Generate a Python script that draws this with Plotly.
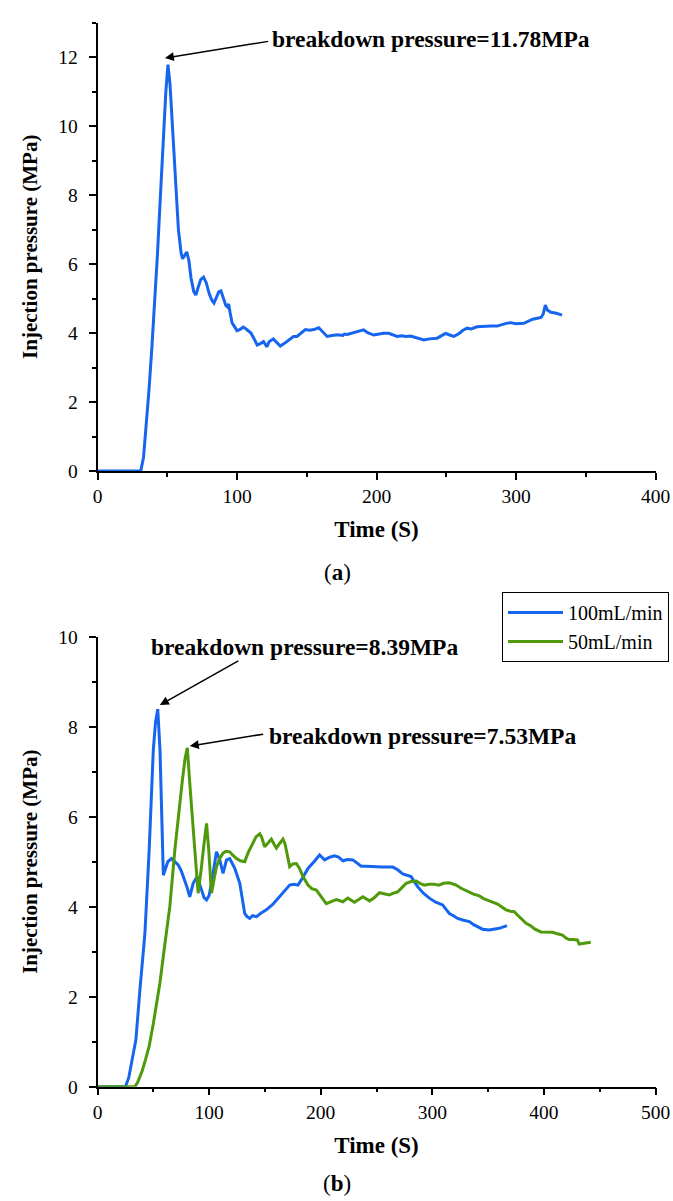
import plotly.graph_objects as go

# ---------- data (a) ----------
t_a = [0, 31, 33, 35, 37, 39, 41, 43, 45, 47, 49, 50.5, 52, 54, 56, 58, 60, 61, 62.5, 64, 65.5, 67, 69, 70.5, 72, 74, 76, 78, 80, 82, 83.5, 85, 87, 88.5, 90, 92, 93, 94, 95, 96.5, 98, 100, 102, 104.5, 107, 110, 112, 114.5, 117, 119, 121.5, 123, 126, 128, 131, 134, 137, 140.5, 143, 146, 149, 152, 155, 158.6, 161, 164.6, 168, 172, 176, 177, 179, 183, 187, 190.7, 194, 198, 202, 205, 208.8, 212, 214.8, 218, 221, 224.4, 228, 231, 234, 238, 243.5, 247, 249.5, 252, 255.4, 259, 262, 265, 268, 272, 277, 282, 286.5, 290, 293, 296, 300, 305.6, 309, 312, 315.2, 318, 319.5, 321, 322.4, 325, 329, 333]
p_a = [0, 0, 0.4, 1.3, 2.4, 3.6, 4.9, 6.3, 7.9, 9.5, 11.0, 11.78, 11.2, 9.8, 8.2, 7.0, 6.3, 6.15, 6.25, 6.35, 6.1, 5.6, 5.2, 5.1, 5.3, 5.55, 5.62, 5.45, 5.15, 4.95, 4.87, 5.0, 5.2, 5.22, 5.05, 4.8, 4.76, 4.84, 4.6, 4.29, 4.2, 4.07, 4.1, 4.17, 4.1, 4.0, 3.85, 3.65, 3.7, 3.75, 3.6, 3.75, 3.83, 3.75, 3.62, 3.7, 3.8, 3.9, 3.9, 4.0, 4.1, 4.08, 4.1, 4.15, 4.05, 3.9, 3.93, 3.95, 3.93, 3.97, 3.96, 4.0, 4.05, 4.09, 4.0, 3.94, 3.97, 3.99, 3.99, 3.93, 3.9, 3.92, 3.9, 3.91, 3.87, 3.82, 3.8, 3.83, 3.85, 3.93, 3.99, 3.95, 3.9, 3.98, 4.08, 4.14, 4.12, 4.18, 4.2, 4.2, 4.2, 4.25, 4.28, 4.3, 4.27, 4.28, 4.35, 4.4, 4.43, 4.45, 4.55, 4.81, 4.67, 4.6, 4.57, 4.52]

# ---------- data (b) ----------
t_100 = [0, 25, 28, 31, 34.4, 38, 42.5, 46.3, 50, 52, 54, 56, 57.5, 59, 61, 63, 66.4, 69, 72.3, 75, 78.3, 80, 82.7, 85.7, 89.3, 91, 93.2, 95.5, 97.7, 100, 102.1, 104.5, 106.6, 109.6, 112.5, 115.6, 118.5, 121, 123, 127.5, 130, 131.9, 134, 136.4, 139, 142.4, 146, 151.3, 157, 163.2, 168, 172.2, 176, 179.6, 184, 188.6, 194, 199, 203.5, 208, 212.4, 216, 219.9, 224, 228.8, 232, 236.3, 241, 246.7, 255, 264.6, 269, 273.5, 278, 281, 284, 287, 292, 297.4, 303, 309.3, 312, 315.3, 319, 322.7, 328, 333.2, 337, 340.6, 345, 351, 356, 360, 366.9]
p_100 = [0, 0, 0.2, 0.6, 1.04, 2.15, 3.41, 5.26, 7.48, 8.1, 8.39, 7.48, 6.0, 4.7, 4.85, 5.0, 5.07, 5.0, 4.93, 4.8, 4.59, 4.45, 4.22, 4.52, 4.67, 4.55, 4.37, 4.2, 4.15, 4.25, 4.52, 4.95, 5.22, 5.04, 4.74, 5.04, 5.07, 4.95, 4.85, 4.52, 4.1, 3.85, 3.78, 3.74, 3.8, 3.78, 3.85, 3.93, 4.05, 4.22, 4.35, 4.48, 4.5, 4.48, 4.65, 4.85, 5.0, 5.15, 5.04, 5.1, 5.13, 5.1, 5.02, 5.05, 5.04, 4.98, 4.9, 4.9, 4.89, 4.88, 4.88, 4.82, 4.73, 4.7, 4.67, 4.55, 4.44, 4.3, 4.19, 4.1, 4.04, 3.95, 3.85, 3.8, 3.74, 3.7, 3.67, 3.6, 3.56, 3.5, 3.48, 3.5, 3.52, 3.58]

t_50 = [0, 33.4, 36, 40, 43, 46.3, 50, 53, 55.9, 60, 64.8, 69.3, 72.3, 76, 78.5, 80.5, 82.7, 85, 87.2, 90.2, 92, 93.2, 95, 97.7, 99.7, 102.1, 104, 106.6, 109, 112.5, 115, 118.5, 121, 124.5, 128, 131.9, 135, 139.4, 142, 145.4, 147, 149.8, 152, 155.8, 158, 160.3, 163, 166.2, 168, 169.2, 172.2, 175, 178.2, 181, 184.1, 188.6, 192, 196.1, 200, 205, 210, 214, 219.9, 224.3, 230.3, 237.8, 243.7, 248, 252.7, 257, 261.6, 265, 269, 273, 276.6, 281, 285.5, 289, 292.9, 297, 301.9, 306, 310, 315.3, 318, 321.3, 325.8, 329, 333.2, 337, 342.1, 346, 351.1, 355, 358.5, 362, 366, 370, 373.4, 377, 380.9, 384, 388.4, 392, 397.3, 402, 407.7, 412, 416.6, 420, 422.6, 426, 430, 431.6, 436, 442]
p_50 = [0, 0, 0.1, 0.35, 0.6, 0.9, 1.4, 1.85, 2.3, 3.1, 4.0, 5.26, 6.0, 6.8, 7.3, 7.53, 6.74, 5.9, 5.26, 4.3, 4.6, 4.89, 5.3, 5.85, 5.26, 4.3, 4.55, 4.89, 5.05, 5.19, 5.23, 5.22, 5.15, 5.07, 5.02, 5.0, 5.2, 5.41, 5.55, 5.62, 5.55, 5.33, 5.4, 5.5, 5.4, 5.3, 5.4, 5.5, 5.4, 5.26, 4.89, 4.95, 4.96, 4.85, 4.67, 4.48, 4.4, 4.37, 4.25, 4.07, 4.12, 4.16, 4.11, 4.19, 4.1, 4.22, 4.13, 4.2, 4.31, 4.28, 4.26, 4.3, 4.33, 4.43, 4.52, 4.56, 4.57, 4.52, 4.48, 4.5, 4.5, 4.48, 4.52, 4.53, 4.5, 4.48, 4.41, 4.37, 4.33, 4.28, 4.24, 4.18, 4.13, 4.1, 4.06, 4.0, 3.93, 3.9, 3.89, 3.8, 3.7, 3.63, 3.57, 3.5, 3.44, 3.43, 3.43, 3.4, 3.37, 3.3, 3.27, 3.27, 3.26, 3.17, 3.18, 3.21]

x_ticks_a = [0, 100, 200, 300, 400]
y_ticks_a = [0, 2, 4, 6, 8, 10, 12]
x_ticks_b = [0, 100, 200, 300, 400, 500]
y_ticks_b = [0, 2, 4, 6, 8, 10]

BLUE = "#1565EF"
GREEN = "#4E9A0A"
SERIF = "Liberation Serif"

fig = go.Figure()
fig.add_trace(go.Scatter(x=t_a, y=p_a, mode="lines", line=dict(color=BLUE, width=3),
                         showlegend=False, xaxis="x", yaxis="y"))
fig.add_trace(go.Scatter(x=t_100, y=p_100, mode="lines", line=dict(color=BLUE, width=3),
                         name="100mL/min", xaxis="x2", yaxis="y2"))
fig.add_trace(go.Scatter(x=t_50, y=p_50, mode="lines", line=dict(color=GREEN, width=3),
                         name="50mL/min", xaxis="x2", yaxis="y2"))

# page body margin is removed by the post script, so lay out in reference pixels
W, H = 673, 1201


def px(x):
    return x / W


def py(y):
    return 1 - y / H


xdom = [px(97.5), px(655.5)]


def xax(rng, ticks, dom_anchor):
    return dict(domain=xdom, range=rng, tickvals=ticks, ticks="outside", ticklen=7, tickwidth=1.5,
                tickcolor="black", showline=True, linecolor="black", linewidth=1.5, showgrid=False,
                zeroline=False, anchor=dom_anchor, automargin=False,
                tickfont=dict(family=SERIF, size=19.5, color="black"),
                minor=dict(ticks="outside", ticklen=4, tickwidth=1.5, tickcolor="black", dtick=50, showgrid=False),
                title=dict(text="<b>Time (S)</b>", font=dict(family=SERIF, size=23, color="black"), standoff=15))


def yax(rng, ticks, dom, anchor):
    return dict(domain=dom, range=rng, tickvals=ticks, ticks="outside", ticklen=7, tickwidth=1.5,
                tickcolor="black", showline=True, linecolor="black", linewidth=1.5, showgrid=False,
                zeroline=False, anchor=anchor, automargin=False, ticklabelstandoff=7,
                tickfont=dict(family=SERIF, size=19.5, color="black"),
                minor=dict(ticks="outside", ticklen=4, tickwidth=1.5, tickcolor="black", dtick=1, showgrid=False),
                title=dict(text="<b>Injection pressure (MPa)</b>", font=dict(family=SERIF, size=21, color="black"),
                           standoff=15))


fig.update_layout(
    width=W, height=H, autosize=False,
    margin=dict(l=0, r=0, t=0, b=0),
    paper_bgcolor="white", plot_bgcolor="white",
    xaxis=xax([0, 400], x_ticks_a, "y"),
    yaxis=yax([0, 13], y_ticks_a, [py(471), py(22.5)], "x"),
    xaxis2=xax([0, 500], x_ticks_b, "y2"),
    yaxis2=yax([0, 10], y_ticks_b, [py(1086.7), py(636.7)], "x2"),
    legend=dict(x=px(502), y=py(592), xanchor="left", yanchor="top",
                bordercolor="black", borderwidth=1, bgcolor="white",
                font=dict(family=SERIF, size=20, color="black"),
                itemwidth=55, tracegroupgap=0),
)

afont = dict(family=SERIF, size=23.5, color="black")
annos = [
    dict(x=48.3, y=11.97, ax=123.4, ay=12.46, xref="x", yref="y", axref="x", ayref="y", text="",
         showarrow=True, arrowhead=2, arrowsize=1.2, arrowwidth=1.5, arrowcolor="black"),
    dict(x=124, y=12.52, xref="x", yref="y", text="<b>breakdown pressure=11.78MPa</b>",
         showarrow=False, xanchor="left", yanchor="middle", font=afont),
    dict(x=55.9, y=8.48, ax=127.5, ay=9.48, xref="x2", yref="y2", axref="x2", ayref="y2", text="",
         showarrow=True, arrowhead=2, arrowsize=1.2, arrowwidth=1.5, arrowcolor="black"),
    dict(x=46, y=9.77, xref="x2", yref="y2", text="<b>breakdown pressure=8.39MPa</b>",
         showarrow=False, xanchor="left", yanchor="middle", font=afont),
    dict(x=82.7, y=7.57, ax=149.8, ay=7.84, xref="x2", yref="y2", axref="x2", ayref="y2", text="",
         showarrow=True, arrowhead=2, arrowsize=1.2, arrowwidth=1.5, arrowcolor="black"),
    dict(x=151.5, y=7.79, xref="x2", yref="y2", text="<b>breakdown pressure=7.53MPa</b>",
         showarrow=False, xanchor="left", yanchor="middle", font=afont),
    dict(x=px(337), y=py(572), xref="paper", yref="paper", text="(<b>a</b>)", showarrow=False,
         xanchor="center", yanchor="middle", font=dict(family=SERIF, size=23, color="black")),
    dict(x=px(337), y=py(1183), xref="paper", yref="paper", text="(<b>b</b>)", showarrow=False,
         xanchor="center", yanchor="middle", font=dict(family=SERIF, size=23, color="black")),
]
fig.update_layout(annotations=annos)

fig.write_html("out.html", config={"displayModeBar": False},
               post_script="document.body.style.margin='0';document.body.style.overflow='hidden';")
